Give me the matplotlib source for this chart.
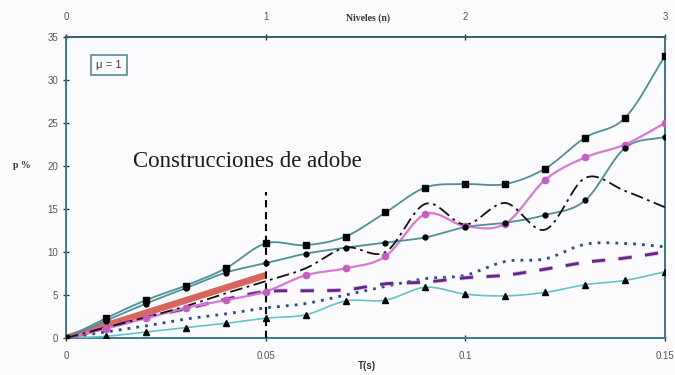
import numpy as np
import matplotlib
matplotlib.use("Agg")
import matplotlib.pyplot as plt

# Period T (s) and drift p (%) for each series
T = [0.00, 0.01, 0.02, 0.03, 0.04, 0.05, 0.06, 0.07,
     0.08, 0.09, 0.10, 0.11, 0.12, 0.13, 0.14, 0.15]
p_squares = [0, 2.3, 4.4, 6.1, 8.1, 11.0, 10.8, 11.8, 14.6, 17.5, 17.9, 17.9, 19.7, 23.3, 25.6, 32.8]
p_circles = [0, 2.0, 4.0, 5.8, 7.6, 8.7, 9.8, 10.5, 11.1, 11.7, 12.9, 13.4, 14.3, 16.0, 22.1, 23.4]
p_pink = [0, 1.1, 2.3, 3.5, 4.4, 5.4, 7.3, 8.1, 9.5, 14.4, 13.0, 13.3, 18.4, 21.0, 22.5, 25.0]
p_dashdot = [0, 1.2, 2.4, 3.7, 5.2, 6.6, 8.1, 10.5, 10.0, 15.6, 13.2, 15.7, 12.6, 18.6, 17.1, 15.2]
p_dotted = [0, 0.7, 1.4, 2.2, 2.8, 3.5, 4.0, 5.0, 6.0, 6.9, 7.3, 8.9, 9.2, 10.9, 11.0, 10.6]
p_dashed = [0, 1.2, 2.4, 3.4, 4.5, 5.4, 5.5, 5.6, 6.3, 6.5, 7.0, 7.3, 8.0, 8.8, 9.3, 10.0]
p_triangles = [0, 0.2, 0.7, 1.2, 1.7, 2.3, 2.7, 4.3, 4.4, 5.9, 5.1, 4.9, 5.3, 6.2, 6.7, 7.7]

# Straight reference line and the vertical marker at T = 0.05 s
ref_T = [0.0, 0.05]
ref_p = [0.0, 7.3]
mark_T = [0.05, 0.05]
mark_p = [0.0, 17.0]

x_ticks = [0, 0.05, 0.1, 0.15]
x_ticklabels = ["0", "0.05", "0.1", "0.15"]
y_ticks = [0, 5, 10, 15, 20, 25, 30, 35]
level_ticks = [0, 1, 2, 3]


def smooth(x, y, n=24):
    """Catmull-Rom curve through the points (like a spreadsheet smoothed line)."""
    x = np.asarray(x, float)
    y = np.asarray(y, float)
    px = np.concatenate([[2 * x[0] - x[1]], x, [2 * x[-1] - x[-2]]])
    py = np.concatenate([[2 * y[0] - y[1]], y, [2 * y[-1] - y[-2]]])
    xs, ys = [], []
    t = np.linspace(0, 1, n, endpoint=False)
    for i in range(1, len(px) - 2):
        p0, p1, p2, p3 = (np.array([px[j], py[j]]) for j in (i - 1, i, i + 1, i + 2))
        t2, t3 = t * t, t * t * t
        pts = 0.5 * ((2 * p1)[:, None]
                     + (-p0 + p2)[:, None] * t
                     + (2 * p0 - 5 * p1 + 4 * p2 - p3)[:, None] * t2
                     + (-p0 + 3 * p1 - 3 * p2 + p3)[:, None] * t3)
        xs.append(pts[0])
        ys.append(pts[1])
    xs.append([x[-1]])
    ys.append([y[-1]])
    return np.concatenate(xs), np.concatenate(ys)


plt.rcParams["font.family"] = ["Liberation Sans", "DejaVu Sans"]

fig = plt.figure(figsize=(6.75, 3.75), dpi=100)
fig.patch.set_facecolor("#fcfcfe")
ax = fig.add_axes([66 / 675, 37 / 375, 599 / 675, 301 / 375])
ax.set_facecolor("#fcfcfe")

teal = "#4d8f98"

# reference straight line
ax.plot(ref_T, ref_p, color="#d4564c", lw=4.8, solid_capstyle="butt", zorder=2, alpha=0.9)

# triangles (light cyan)
sx, sy = smooth(T, p_triangles)
ax.plot(sx, sy, color="#62c3cb", lw=1.2, zorder=3)
ax.plot(T, p_triangles, ls="none", marker="^", ms=4, color="black", zorder=5)

# dotted blue
sx, sy = smooth(T, p_dotted)
ax.plot(sx, sy, color="#27498f", lw=2.0, ls=(0, (1, 2.2)), zorder=3)

# dashed purple
sx, sy = smooth(T, p_dashed)
ax.plot(sx, sy, color="#e27fd0", lw=3.2, ls=(0, (3, 3)), zorder=3, alpha=0.6)
ax.plot(sx, sy, color="#5a2b86", lw=2.0, ls=(0, (4.8, 4.8)), zorder=3)

# pink series
sx, sy = smooth(T, p_pink)
ax.plot(sx, sy, color="#d779d6", lw=1.6, zorder=3)
ax.plot(T[1:], p_pink[1:], ls="none", marker="o", ms=4.5, color="#c65cc6", zorder=5)

# dash-dot black
sx, sy = smooth(T, p_dashdot)
ax.plot(sx, sy, color="#111111", lw=1.3, ls=(0, (7, 2.5, 1.5, 2.5)), zorder=4)

# circles
sx, sy = smooth(T, p_circles)
ax.plot(sx, sy, color=teal, lw=1.3, zorder=3)
ax.plot(T, p_circles, ls="none", marker="o", ms=3.5, color="black", zorder=5)

# squares
sx, sy = smooth(T, p_squares)
ax.plot(sx, sy, color=teal, lw=1.3, zorder=3)
ax.plot(T, p_squares, ls="none", marker="s", ms=4.5, color="black", zorder=5)

# vertical marker at T = 0.05 s
ax.plot(mark_T, mark_p, color="black", lw=1.5, ls=(0, (3.5, 2.2)), zorder=4)

ax.set_xlim(0, 0.15)
ax.set_ylim(0, 35)
ax.set_xticks(x_ticks)
ax.set_xticklabels(x_ticklabels)
ax.set_yticks(y_ticks)

spine_col = "#3b7a92"
for s in ax.spines.values():
    s.set_color(spine_col)
    s.set_linewidth(1.4)
ax.spines["top"].set_color("#2f5f6f")

ax.tick_params(axis="both", direction="inout", length=5, width=1, color="#333333",
               labelsize=7, labelcolor="#555555", pad=7)
ax.tick_params(axis="y", pad=3)

# top axis: number of levels
sec = ax.secondary_xaxis("top", functions=(lambda t: t / 0.05, lambda n: n * 0.05))
sec.set_xticks(level_ticks)
sec.set_xticklabels([str(v) for v in level_ticks])
sec.tick_params(direction="inout", length=5, width=1, color="#333333",
                labelsize=7, labelcolor="#555555", pad=8)
sec.spines["top"].set_visible(False)

fig.text(368 / 675, 1 - 18 / 375, "Niveles (n)", ha="center", va="center",
         fontsize=7, fontweight="bold", family=["Liberation Serif", "DejaVu Serif"],
         color="#333333")
fig.text(367 / 675, 1 - 366 / 375, "T(s)", ha="center", va="center",
         fontsize=7, fontweight="bold", color="#333333")
fig.text(22 / 675, 1 - 166 / 375, "p %", ha="center", va="center",
         fontsize=7, fontweight="bold", family=["Liberation Serif", "DejaVu Serif"],
         color="#333333")

ax.text(0.072, 0.907, "μ = 1", transform=ax.transAxes, ha="center", va="center",
        fontsize=8, color="#333333",
        bbox=dict(boxstyle="square,pad=0.45", facecolor="white", edgecolor=teal, lw=1.2))

ax.text(0.112, 0.588, "Construcciones de adobe", transform=ax.transAxes,
        ha="left", va="center", fontsize=16.5, color="#1a1a1a",
        family=["Liberation Serif", "DejaVu Serif"])

fig.savefig("out.png", dpi=100, facecolor=fig.get_facecolor())
